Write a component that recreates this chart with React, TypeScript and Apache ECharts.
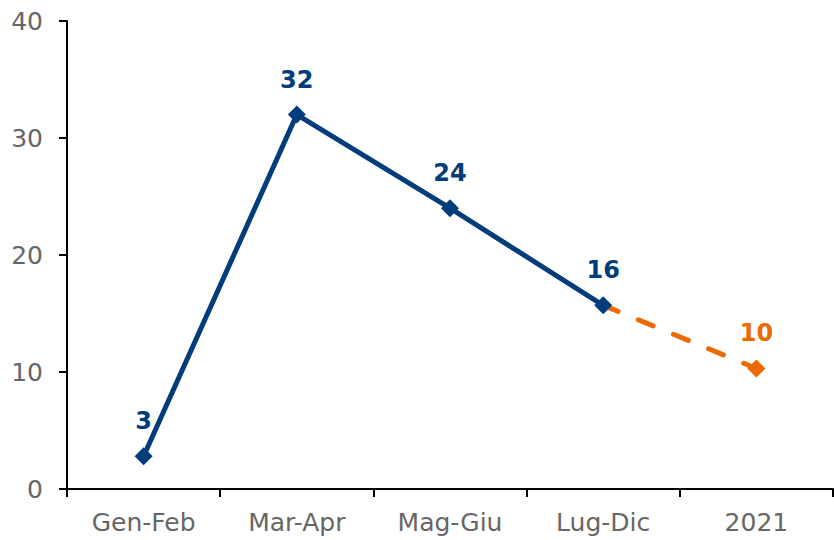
import React, { useEffect, useRef } from "react";
import * as echarts from "echarts";

const categories = ["Gen-Feb", "Mar-Apr", "Mag-Giu", "Lug-Dic", "2021"];
const actualValues: (number | null)[] = [2.8, 32.0, 24.0, 15.7, null];
const forecastValues: (number | null)[] = [null, null, null, 15.7, 10.3];
const yTicks = { min: 0, max: 40, interval: 10 };

const BLUE = "#003d7a";
const ORANGE = "#ec6a00";
const GREY = "#666666";
const FONT = "'Century Gothic', 'DejaVu Sans', sans-serif";

export default function App() {
  const ref = useRef<HTMLDivElement>(null);
  useEffect(() => {
    if (!ref.current) return;
    const chart = echarts.init(ref.current, null, { renderer: "svg" });
    const dataLabel = (color: string) => ({
      show: true,
      position: "top",
      distance: 14,
      color,
      fontSize: 24,
      fontWeight: "bold",
      fontFamily: FONT,
      formatter: (p: any) => (p.value == null ? "" : String(Math.round(p.value))),
    });
    chart.setOption({
      animation: false,
      grid: { left: 67, right: 1, top: 21, bottom: 51, containLabel: false },
      xAxis: {
        type: "category",
        data: categories,
        boundaryGap: true,
        axisLine: { lineStyle: { color: "#000", width: 2 } },
        axisTick: { show: true, length: 8, lineStyle: { color: "#000", width: 2 } },
        axisLabel: { color: GREY, fontSize: 25, fontFamily: FONT, margin: 21 },
        splitLine: { show: false },
      },
      yAxis: {
        type: "value",
        min: yTicks.min,
        max: yTicks.max,
        interval: yTicks.interval,
        axisLine: { show: true, lineStyle: { color: "#000", width: 2 } },
        axisTick: { show: true, length: 8, lineStyle: { color: "#000", width: 2 } },
        axisLabel: { color: GREY, fontSize: 25, fontFamily: FONT, margin: 24 },
        splitLine: { show: false },
      },
      series: [
        {
          type: "line",
          data: actualValues,
          symbol: "diamond",
          symbolSize: 18,
          lineStyle: { color: BLUE, width: 5 },
          itemStyle: { color: BLUE },
          z: 3,
          label: dataLabel(BLUE),
        },
        {
          type: "line",
          data: forecastValues.map((v, i) =>
            i === forecastValues.length - 1 ? v : { value: v, symbol: "none", label: { show: false } }
          ),
          symbol: "diamond",
          symbolSize: 18,
          lineStyle: { color: ORANGE, width: 5, type: [16, 22], cap: "round" },
          itemStyle: { color: ORANGE },
          z: 2,
          label: dataLabel(ORANGE),
        },
      ],
    });
    return () => chart.dispose();
  }, []);
  return <div ref={ref} style={{ width: 834, height: 540, position: "absolute", left: 0, top: 0 }} />;
}
